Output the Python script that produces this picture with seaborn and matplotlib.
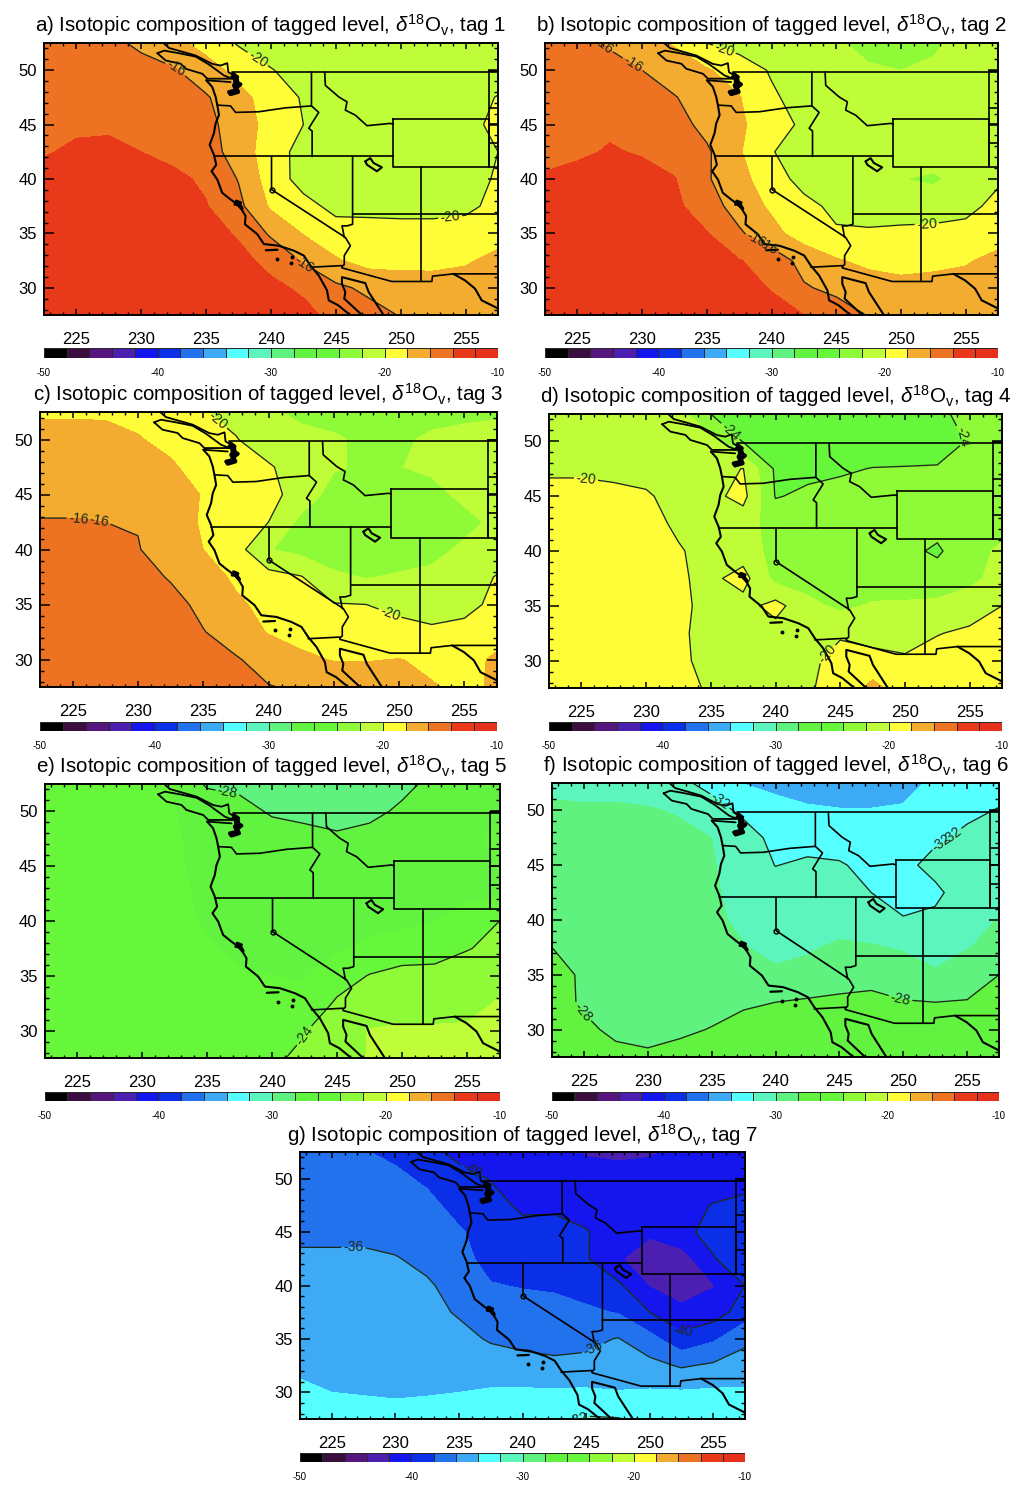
import numpy as np
import matplotlib
matplotlib.use("Agg")
import matplotlib.pyplot as plt
from matplotlib.colors import ListedColormap
from matplotlib.ticker import MultipleLocator
import seaborn as sns

# model grid (deg E / deg N), rows below are written north to south
lon_grid = [222.5, 225, 227.5, 230, 232.5, 235, 237.5, 240, 242.5, 245, 247.5, 250, 252.5, 255, 257.5]
lat_grid = [52.5, 50, 47.5, 45, 42.5, 40, 37.5, 35, 32.5, 30, 27.5]

tag1 = [
    [-14.5, -14.9, -15.5, -16.4, -17.5, -18.7, -20.2, -21, -22, -22, -21.6, -21.5, -21.4, -21.3, -21.2],
    [-14.4, -14.6, -14.9, -15.3, -15.8, -17.2, -18.6, -19.9, -20.8, -21, -21, -21, -21, -21, -21],
    [-14.2, -14.4, -14.6, -14.9, -15.2, -15.8, -17.4, -18.8, -20.2, -21, -21, -21, -21, -20.8, -19.9],
    [-14.3, -14.2, -14.2, -14.4, -14.7, -15.4, -17, -18.7, -20, -20.8, -20.9, -20.9, -20.8, -20.5, -19.6],
    [-14.1, -13.8, -13.7, -14, -14.5, -15.2, -16.8, -19.2, -20.6, -21, -21, -21, -20.9, -20.5, -20],
    [-13.6, -13.4, -13.3, -13.4, -13.6, -14.3, -16.1, -19, -20.7, -21, -21, -21, -21, -20.7, -19.8],
    [-13.2, -13, -13, -13.1, -13.3, -13.9, -15.5, -18.3, -19.4, -20.5, -20.5, -20.6, -20.6, -20.4, -19.5],
    [-13, -12.8, -12.8, -12.8, -13, -13.3, -14.2, -16.3, -18.1, -19.2, -19.3, -19.3, -19.3, -19.2, -18.7],
    [-12.9, -12.7, -12.7, -12.7, -12.8, -13, -13.5, -14.5, -16.2, -17.8, -18.7, -18.6, -18.5, -18.2, -17.5],
    [-12.8, -12.7, -12.7, -12.8, -12.9, -13, -13.2, -13.6, -14.3, -15.6, -16.4, -17, -17.2, -17.2, -17],
    [-12.6, -12.6, -12.7, -12.8, -12.9, -13, -13.1, -13.3, -13.5, -14.5, -15.3, -16.1, -16.5, -16.7, -16.8],
]
tag2 = [
    [-14.6, -15.4, -16.2, -17.1, -18.2, -20, -20.8, -21.2, -21.5, -21.8, -22.5, -22.6, -22.2, -21.6, -21.4],
    [-14.5, -14.8, -15.4, -16, -16.9, -17.8, -18.9, -20.2, -20.9, -21.3, -21.8, -22, -21.8, -21.5, -21.3],
    [-14.3, -14.5, -14.8, -15.2, -15.9, -16.9, -17.9, -19.7, -20.8, -21, -21, -21.1, -21.1, -21, -20.9],
    [-14.2, -14.2, -14.2, -14.4, -15.2, -16.6, -17.7, -19, -20.4, -21, -21, -21, -21, -21, -20.9],
    [-14.5, -14.2, -13.9, -14.1, -14.9, -15.7, -17.8, -19.9, -20.9, -21, -21, -21, -21, -21, -20.9],
    [-13.8, -13.6, -13.5, -13.6, -13.9, -15.8, -17.3, -19.2, -20.6, -21, -21.2, -21.95, -22.3, -21.3, -20.3],
    [-13.3, -13.1, -13, -13.1, -13.6, -15, -16.9, -18.3, -19.5, -20.4, -20.7, -20.9, -20.9, -20.6, -19.4],
    [-13, -12.8, -12.8, -12.8, -13, -13.9, -15.7, -17.4, -18.9, -19.8, -19.8, -19.6, -19.5, -19.3, -18.9],
    [-12.8, -12.7, -12.7, -12.7, -12.8, -13, -13.9, -14.8, -16.7, -17.8, -18.5, -18.7, -18.5, -18.2, -17.4],
    [-12.8, -12.7, -12.7, -12.8, -12.9, -13, -13.4, -14.1, -15.8, -16.5, -17, -17.4, -17.3, -17.2, -17.1],
    [-12.6, -12.6, -12.7, -12.8, -12.9, -13, -13.1, -13.4, -14, -15, -16.1, -16.5, -16.7, -16.8, -16.8],
]
tag3 = [
    [-18.3, -18.3, -18.3, -18.4, -18.9, -19.9, -20.6, -21.8, -22.3, -22.6, -22.7, -22.5, -22.4, -22.3, -22.2],
    [-17.2, -17.2, -17.3, -17.9, -18.4, -19, -19.9, -21, -21.6, -21.8, -22.3, -22.2, -21.8, -21.6, -21.5],
    [-16.9, -16.9, -17, -17.2, -17.8, -18.6, -19.2, -19.8, -20.9, -21.8, -22.3, -22.05, -21.7, -21.5, -21.4],
    [-16.6, -16.6, -16.7, -16.9, -17.2, -18.1, -18.7, -19.4, -20.8, -22.8, -23, -23, -22.5, -21.6, -21.3],
    [-15.9, -15.9, -16, -16.1, -16.7, -18.3, -19.2, -20, -22.5, -22.9, -23, -23, -23, -22.5, -21.6],
    [-15.2, -15.2, -15.3, -15.9, -17, -18, -19.2, -21.9, -22.6, -22.9, -23, -22.9, -22.5, -21.7, -21],
    [-14.9, -14.8, -14.8, -15.1, -16.2, -17.2, -18.3, -19.3, -19.9, -21.7, -22.1, -21.8, -21.6, -20.8, -19.9],
    [-14.6, -14.4, -14.4, -14.6, -15.2, -16.6, -17.7, -18.5, -19.3, -19.9, -20, -20.4, -20.8, -20.6, -19.5],
    [-14.4, -14.2, -14.2, -14.3, -14.7, -15.9, -17.1, -18.1, -18.7, -19.1, -19.3, -19.5, -19.7, -19.4, -18.7],
    [-14.2, -14.1, -14.1, -14.2, -14.5, -15.2, -15.8, -16.9, -17.6, -18.1, -18.1, -17.95, -18.3, -18.6, -17.7],
    [-14, -14, -14, -14.1, -14.3, -14.7, -15.3, -15.9, -16.3, -16.6, -16.9, -17.3, -17.9, -18.3, -17.8],
]
tag4 = [
    [-20.4, -20.4, -20.5, -20.6, -21.2, -24, -24.5, -24.8, -25, -25, -25, -25, -24.2, -23.7, -23.5],
    [-20.3, -20.3, -20.4, -20.5, -20.7, -21.4, -24.1, -24.5, -24.8, -25, -25, -25, -24.6, -23.9, -23.5],
    [-20.2, -20.2, -20.3, -20.3, -20.4, -20.6, -19.95, -24.3, -24.4, -24.2, -23.95, -23.9, -23.9, -23.95, -23.4],
    [-19.6, -19.6, -19.7, -19.9, -20.3, -20.5, -19.4, -24.1, -23.7, -23.5, -23.4, -23.3, -23.3, -23.2, -22.6],
    [-19.3, -19.3, -19.4, -19.6, -20.2, -20.5, -21.1, -22.9, -23.3, -23.4, -23.4, -23.4, -23.3, -23.2, -22.6],
    [-19.2, -19.2, -19.2, -19.3, -19.9, -20.4, -20.9, -22.7, -23, -23.1, -23.2, -23.5, -24.3, -22.6, -21.7],
    [-19.2, -19.2, -19.2, -19.3, -19.8, -20.4, -19.3, -22.6, -22.8, -22.9, -23, -23.2, -23.1, -22.4, -21.4],
    [-19.2, -19.2, -19.2, -19.3, -19.7, -20.4, -20.7, -19.3, -21.5, -22.4, -21.8, -21.7, -21.6, -21.1, -20],
    [-19.1, -19.1, -19.2, -19.3, -19.8, -20.4, -20.6, -20.8, -20.9, -20.2, -21, -20.9, -20.1, -19.6, -19.2],
    [-19, -19, -19.1, -19.2, -19.8, -20.3, -20.5, -20.6, -20.4, -19.4, -19.1, -19.7, -19.1, -18.9, -18.8],
    [-19, -19, -19, -19.1, -19.5, -20.2, -20.4, -20.5, -20.2, -19.3, -17.5, -18.9, -18.8, -18.7, -18.6],
]
tag5 = [
    [-25.6, -25.6, -25.7, -25.8, -26, -28.3, -28.4, -28.5, -28.6, -28.6, -28.5, -28.3, -27.7, -26.8, -26.4],
    [-25.7, -25.7, -25.7, -25.8, -26, -26.4, -27.4, -28.2, -28.4, -28.5, -28.3, -27.8, -27.2, -26.6, -26.1],
    [-25.5, -25.5, -25.5, -25.7, -25.9, -26.3, -26.8, -27.2, -27.5, -27.8, -27.6, -27.2, -26.8, -26.2, -25.8],
    [-25.5, -25.5, -25.5, -25.6, -25.9, -26.2, -26.4, -26.7, -26.9, -27, -26.9, -26.8, -26.6, -26.3, -26],
    [-25.5, -25.5, -25.5, -25.6, -25.9, -26.1, -26.3, -26.5, -26.7, -26.8, -26.8, -26.7, -26.5, -26.4, -26.3],
    [-25.4, -25.4, -25.5, -25.5, -25.8, -26.1, -26.3, -26.4, -26.5, -26.6, -26.6, -26.5, -26, -25.2, -24],
    [-25.4, -25.4, -25.4, -25.5, -25.6, -25.9, -26.2, -26.3, -26.3, -26.2, -25.6, -25, -24.8, -24.1, -23.5],
    [-25.3, -25.3, -25.3, -25.4, -25.5, -25.7, -25.9, -26, -26.1, -25, -23.9, -23.4, -23.4, -23, -22.7],
    [-25.2, -25.2, -25.2, -25.2, -25.3, -25.5, -25.6, -25.6, -25.6, -23.7, -23.2, -23, -23, -22.7, -21.8],
    [-25, -25, -25.1, -25.1, -25.2, -25.3, -25.4, -25.2, -24.1, -23, -21.9, -21.7, -21.7, -21.7, -21.5],
    [-24.9, -24.9, -25, -25, -25.1, -25.2, -25.1, -24.3, -23.6, -22.8, -21.9, -21.6, -21.5, -21.4, -21.2],
]
tag6 = [
    [-30.3, -30.5, -30.7, -31.1, -31.6, -32.6, -34.05, -34.6, -35, -35.1, -35.1, -34.9, -33.5, -33, -32.8],
    [-29.8, -29.8, -29.7, -29.8, -30.2, -31.2, -32.4, -33.2, -33.7, -33.9, -33.9, -33.7, -33, -32.4, -31.9],
    [-29.4, -29.3, -29.3, -29.3, -29.5, -30, -31.2, -32.5, -32.9, -33, -33, -32.8, -32.3, -31.6, -31],
    [-29.2, -29.1, -29.1, -29.1, -29.2, -29.9, -30.6, -32.05, -31.6, -31.8, -32.6, -32.5, -31.4, -30.9, -30.6],
    [-29, -29, -29, -29, -29.1, -29.8, -30.5, -30.9, -31.2, -31.5, -32, -32.6, -32.4, -31, -30.5],
    [-28.8, -28.8, -28.8, -28.8, -29, -29.6, -30.4, -30.7, -30.8, -31, -31.3, -31.9, -31.6, -30.8, -29.9],
    [-28, -28.6, -28.7, -28.7, -28.8, -29.1, -29.9, -30.5, -30.3, -29.6, -29.8, -30.2, -30.6, -30.1, -29.4],
    [-27.5, -28.2, -28.6, -28.6, -28.6, -28.7, -28.8, -29.7, -29.2, -28.7, -28.4, -29, -29.8, -29, -28],
    [-27.4, -28.2, -28.5, -28.6, -28.5, -28.4, -28.2, -28, -27.8, -27.7, -27.7, -27.9, -28, -27.9, -27.5],
    [-26.9, -27.7, -28.3, -28.4, -28.2, -27.95, -27.5, -27.2, -27.1, -26.9, -27, -27.2, -27.2, -27.3, -27.3],
    [-26.8, -27.3, -27.6, -27.8, -27.6, -27.4, -27.1, -26.8, -26.4, -25.9, -26.1, -26.3, -26.6, -26.8, -26.9],
]
tag7 = [
    [-37, -37.3, -37.9, -38.4, -39.3, -40.7, -41, -41.4, -41.6, -42.1, -42.2, -42.1, -41.8, -41.4, -41.2],
    [-37, -37.1, -37.3, -37.6, -38.3, -39.1, -40.1, -40.8, -41.2, -41.5, -41.6, -41.6, -41.4, -41.1, -40.8],
    [-36.8, -36.8, -36.9, -37, -37.5, -38.6, -39.2, -40.4, -40.2, -40.6, -41, -41, -40.7, -39.9, -39.4],
    [-36.4, -36.4, -36.4, -36.6, -36.9, -37.8, -38.8, -39.3, -39.6, -39.9, -40.8, -41.7, -40.4, -39.5, -39.2],
    [-35.7, -35.7, -35.7, -35.9, -36.4, -37.4, -38.6, -39, -39.3, -39.8, -41.8, -43, -43, -40.1, -39],
    [-35.2, -35.2, -35.2, -35.4, -35.8, -36.6, -37.9, -38.1, -38.2, -38.7, -39.6, -42.1, -43, -42.1, -40],
    [-34.9, -34.9, -34.9, -35, -35.4, -36.2, -37, -37.3, -37.5, -37.7, -38.1, -40, -41.5, -41, -39],
    [-34.6, -34.6, -34.6, -34.7, -34.9, -35.4, -36.2, -36.4, -36.5, -36.5, -35.9, -37.3, -39.4, -38.3, -36.4],
    [-34.3, -34.2, -34.2, -34.3, -34.4, -34.7, -35, -35.5, -35.7, -35.5, -35.2, -35.4, -36.2, -35.7, -35.2],
    [-33.7, -34, -34.1, -34.2, -34.1, -34, -33.8, -33.7, -33.7, -33.7, -33.9, -33.8, -33.8, -33.7, -33.7],
    [-33.1, -33.2, -33.3, -33.4, -33.4, -33.2, -33, -32.9, -32.6, -31.8, -31.9, -32.5, -32.8, -33, -33.1],
]

# colour bar: 2 permil classes from -50 to -10
class_edges = np.arange(-50, -8, 2)
class_colors = ["#000000", "#3A0F3F", "#551680", "#4B1FB0", "#1515EE", "#0A2FE6", "#2272EE", "#3CAAF5",
                "#55FFFF", "#5CF5BE", "#5FF27E", "#61F33F", "#66F73A", "#8EFA38", "#BFFD38", "#FFFD38",
                "#F4AC30", "#ED7323", "#E8391B", "#E6301A"]
cbar_ticks = [-50, -40, -30, -20, -10]

# coast and borders, lon / lat
coast_lon = [235.01, 235.47, 235.73, 235.86, 235.99, 235.73, 235.6, 235.27, 235.6, 235.78, 235.42, 235.86, 236.24,
             236.88, 237.4, 237.73, 238.04, 237.99, 238.94, 239.45, 240.6, 241.76, 242.53, 243.04, 243.68, 244.32,
             244.45, 245.17, 246.1]
coast_lat = [49.07, 48.46, 47.55, 46.79, 45.87, 45.11, 44.2, 43.14, 42.23, 41.31, 40.71, 39.95, 38.73,
             38.12, 37.67, 37.21, 36.6, 35.84, 34.93, 34.02, 33.87, 33.41, 32.96, 32.04, 31.13, 29.76,
             28.85, 28.4, 27.5]
olympic_lon = [235.01, 236.88]
olympic_lat = [49.07, 48.91]
island_lon = [231.24, 231.76, 232.91, 234.19, 235.22, 236.37, 237.01, 235.09, 234.71, 233.42, 233.04, 231.88, 231.24]
island_lat = [51.56, 51.8, 51.56, 51.25, 50.52, 49.52, 49.22, 49.22, 49.67, 50.13, 50.59, 50.89, 51.56]
bc_lon = [231.7, 232.14, 234.19, 235.47, 236.12, 236.63, 236.71, 237.14]
bc_lat = [52.5, 52.04, 51.35, 50.58, 50.43, 50.65, 49.83, 49.52]
puget_lon = [237.06, 237.4, 237.22, 237.65, 237.32, 237.47, 236.88, 236.76, 237.32, 237.14, 237.4, 237.01]
puget_lat = [49.67, 49.37, 49.0, 48.7, 48.4, 48.0, 47.79, 48.0, 48.15, 48.61, 49.07, 49.37]
bay_lon = [237.32, 237.65, 237.47, 237.78, 237.58, 237.22]
bay_lat = [37.97, 37.82, 37.61, 37.27, 37.67, 37.67]
baja_lon = [248.68, 247.53, 247.27, 245.47, 245.47, 245.73, 245.65, 247.01]
baja_lat = [27.5, 29.61, 30.43, 30.98, 30.37, 29.61, 29.0, 27.5]
salt_lon = [247.27, 247.65, 247.91, 248.55, 248.16, 247.78, 247.4, 247.27]
salt_lat = [41.62, 41.92, 41.47, 41.07, 40.71, 41.01, 41.31, 41.62]
channel_lon = [239.6, 240.5]
channel_lat = [33.45, 33.5]
isle_lon = [240.47, 241.63, 241.55]
isle_lat = [32.65, 32.8, 32.26]
tahoe_lon = [240.04]
tahoe_lat = [39.03]

border_canada = ([237, 257.5], [49.83, 49.83])
border_wa_id = ([243.12, 243.12, 243.68, 242.91, 243.17, 243.17], [49.83, 46.72, 46.12, 44.66, 44.41, 42.07])
border_wa_or = ([235.86, 236.88, 237.27, 239.06, 241.12, 243.12], [46.79, 46.72, 46.12, 46.18, 46.54, 46.72])
border_42 = ([235.6, 249.4], [42.07, 42.07])
border_ca_nv = ([240.04, 240.04, 245.73, 246.12, 245.65, 245.65, 245.47], [42.07, 39.03, 34.63, 33.87, 32.96, 32.14, 31.95])
border_nv_ut = ([246.29, 246.29, 245.86, 245.47, 245.53, 245.65], [42.07, 35.84, 35.69, 35.69, 35.39, 34.63])
border_az_ut = ([246.29, 257.5], [36.75, 36.75])
border_az_nm = ([251.58, 251.58], [41.07, 30.58])
border_wy = ([249.4, 249.4, 256.8, 256.8, 249.4], [45.48, 41.07, 41.07, 45.48, 45.48])
border_co_top = ([256.8, 257.5], [41.07, 41.07])
border_id_mt = ([244.14, 244.19, 245.22, 245.86, 245.73, 246.5, 247.4, 249.19, 249.4],
                [49.83, 48.61, 47.55, 47.09, 46.33, 45.87, 44.9, 45.11, 45.05])
border_mt_nd = ([256.8, 256.8], [49.97, 41.07])
border_nd_top = ([256.8, 257.5], [49.97, 49.97])
border_sd = ([256.8, 257.5], [46.57, 46.57])
border_sd2 = ([256.8, 257.5], [45.05, 45.05])
border_ne = ([256.8, 257.5], [43.3, 43.3])
border_mexico = ([243.04, 245.47, 245.47, 249.32, 252.4, 252.45, 254.06, 257.5],
                 [31.89, 32.04, 31.83, 30.58, 30.58, 31.07, 31.28, 31.28])
river_grande = ([254.06, 254.96, 255.73, 256.24, 257.5], [31.28, 30.68, 29.92, 28.85, 28.1])
all_borders = [border_canada, border_wa_id, border_wa_or, border_42, border_ca_nv, border_nv_ut, border_az_ut,
               border_az_nm, border_wy, border_co_top, border_id_mt, border_mt_nd, border_nd_top, border_sd,
               border_sd2, border_ne, border_mexico]

# panel text and where the contour labels sit
panel_names = ["a)", "b)", "c)", "d)", "e)", "f)", "g)"]
panel_values = [tag1, tag2, tag3, tag4, tag5, tag6, tag7]
label_spots = [
    [(238.9, 50.9), (232.8, 50.4), (253.8, 36.6), (242.8, 32.7)],
    [(227, 52.3), (229, 50), (238.2, 33.1), (239, 32.2), (236.2, 51.4), (252, 35.9)],
    [(235.3, 50.6), (225.4, 42.3), (227, 42.3), (249.3, 34.2)],
    [(236.5, 50.9), (255, 50.8), (225.3, 46.1), (244, 30.6)],
    [(236.5, 51.3), (242.4, 29.6)],
    [(235.6, 50.8), (253, 47.1), (253.5, 47.7), (224.9, 31.6), (250, 33.7)],
    [(236, 50.7), (226.7, 43.7), (252.6, 35.6), (245.6, 34), (244.3, 27.8)],
]
# pixel boxes: left, right, top, bottom of map, bar top, bar bottom, title y
panel_boxes = [
    (44, 498, 43, 315, 348, 358, 25),
    (545, 998, 43, 315, 348, 358, 25),
    (40, 497, 412, 687, 722, 731, 394),
    (549, 1002, 414, 688, 722, 731, 396),
    (44.5, 499.5, 784, 1058, 1092, 1101, 766),
    (552, 999, 783, 1057, 1092, 1101, 765),
    (300, 745, 1152, 1419, 1453, 1462, 1135),
]

sns.set_style("ticks")
plt.rcParams["font.family"] = ["Liberation Sans", "DejaVu Sans"]
plt.rcParams["mathtext.fontset"] = "custom"
plt.rcParams["mathtext.rm"] = "Liberation Sans"
plt.rcParams["mathtext.it"] = "Liberation Sans:italic"
plt.rcParams["mathtext.fallback"] = "cm"
plt.rcParams["text.color"] = "black"
plt.rcParams["xtick.color"] = "black"
plt.rcParams["ytick.color"] = "black"

W, H = 1024, 1492
fig = plt.figure(figsize=(W / 100, H / 100), dpi=100)
palette = sns.color_palette(class_colors, n_colors=20)
bar_cmap = ListedColormap(palette)


def px_axes(left, right, top, bottom):
    return fig.add_axes([left / W, 1 - bottom / H, (right - left) / W, (bottom - top) / H])


def draw_map(ax):
    ax.plot(coast_lon, coast_lat, color="black", lw=1.5)
    ax.plot(olympic_lon, olympic_lat, color="black", lw=1.3)
    ax.plot(island_lon, island_lat, color="black", lw=1.3)
    ax.plot(bc_lon, bc_lat, color="black", lw=1.3)
    ax.plot(puget_lon, puget_lat, color="black", lw=2.8)
    ax.plot(bay_lon, bay_lat, color="black", lw=2.2)
    ax.plot(baja_lon, baja_lat, color="black", lw=1.5)
    ax.plot(salt_lon, salt_lat, color="black", lw=1.5)
    ax.plot(channel_lon, channel_lat, color="black", lw=1.6)
    ax.plot(isle_lon, isle_lat, ls="none", marker="o", ms=1.8, color="black")
    ax.plot(tahoe_lon, tahoe_lat, ls="none", marker="o", ms=3.5, mfc="none", mec="black", mew=1)
    for xs, ys in all_borders:
        ax.plot(xs, ys, color="black", lw=1.2)
    ax.plot(river_grande[0], river_grande[1], color="black", lw=1.5)


for i in range(7):
    left, right, top, bottom, bar_top, bar_bottom, title_y = panel_boxes[i]
    ax = px_axes(left, right, top, bottom)
    z = np.array(panel_values[i])[::-1]
    lats = lat_grid[::-1]

    ax.contourf(lon_grid, lats, z, levels=class_edges, colors=palette)
    lines = ax.contour(lon_grid, lats, z, levels=np.arange(-48, -10, 4), colors="#1c2a1c", linewidths=0.95,
                       linestyles="solid")
    ax.clabel(lines, fmt="%d", fontsize=10, manual=label_spots[i], inline=True, inline_spacing=2)
    draw_map(ax)

    ax.set_xlim(222.5, 257.5)
    ax.set_ylim(27.5, 52.5)
    ax.set_axisbelow(False)
    ax.xaxis.set_major_locator(MultipleLocator(5))
    ax.xaxis.set_minor_locator(MultipleLocator(1))
    ax.yaxis.set_major_locator(MultipleLocator(5))
    ax.yaxis.set_minor_locator(MultipleLocator(1))
    ax.tick_params(axis="x", which="major", direction="in", top=True, bottom=True, length=4.5, width=1.1,
                   labelsize=12, pad=12.5)
    ax.tick_params(axis="x", which="minor", direction="in", top=True, bottom=True, length=2.2, width=1)
    ax.tick_params(axis="y", which="major", direction="in", left=True, right=True, length=7, width=1.1,
                   labelsize=12, pad=5)
    ax.tick_params(axis="y", which="minor", direction="in", left=True, right=True, length=3.2, width=1)
    for spine in ax.spines.values():
        spine.set_linewidth(1.4)
        spine.set_visible(True)
        spine.set_color("black")

    fig.text((left + right) / 2 / W, 1 - title_y / H,
             panel_names[i] + r" Isotopic composition of tagged level, $\delta^{18}$O$_{\mathrm{v}}$, tag " + str(i + 1),
             ha="center", va="center", fontsize=14.8)

    # colour bar strip
    cax = px_axes(left, right, bar_top, bar_bottom)
    strip = (class_edges[:-1] + 1).reshape(1, -1)
    sns.heatmap(strip, ax=cax, cmap=bar_cmap, vmin=-50, vmax=-10, cbar=False, xticklabels=False, yticklabels=False,
                linewidths=0.4, linecolor="#2a2a2a")
    cax.set_xticks([(t + 50) / 2 for t in cbar_ticks])
    cax.set_xticklabels([str(t) for t in cbar_ticks], rotation=0, fontsize=7)
    cax.tick_params(axis="x", length=0, pad=7)
    cax.set_yticks([])

fig.savefig("out.png", dpi=100, facecolor="white")
